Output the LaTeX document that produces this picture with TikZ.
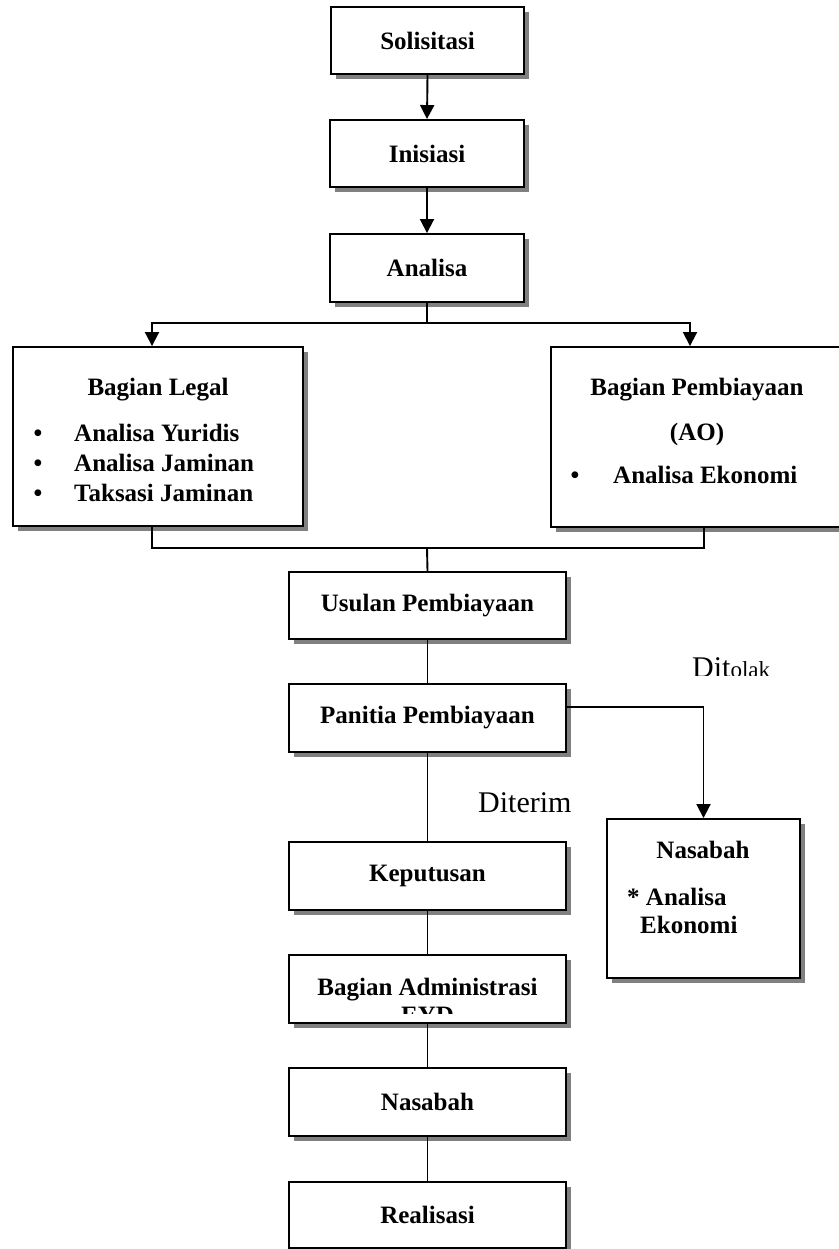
\documentclass[tikz,border=0pt]{standalone}
\usepackage{fontspec}
\setmainfont{Liberation Serif}
\usetikzlibrary{arrows.meta,shadows}
\definecolor{shadowgray}{HTML}{808080}
\begin{document}
\begin{tikzpicture}[x=1pt,y=1pt,
  box/.style={draw=black, line width=1.9pt, fill=white,
    general shadow={fill=shadowgray, shadow xshift=5pt, shadow yshift=-5pt},
    inner sep=0pt, font=\bfseries\fontsize{25}{30}\selectfont, align=center},
  link/.style={line width=1.9pt},
  arr/.style={link, -{Triangle[width=14pt,length=14pt]}},
  lbl/.style={font=\bfseries\fontsize{25}{30}\selectfont, inner sep=0pt},
  plain/.style={font=\fontsize{30}{36}\selectfont, inner sep=0pt}]
\useasboundingbox (0,0) rectangle (838,-1249);

% main column
\node[box, minimum width=193pt, minimum height=67pt] (sol) at (427.5,-40.5) {Solisitasi};
\node[box, minimum width=194pt, minimum height=67pt] (ini) at (427,-153.5) {Inisiasi};
\node[box, minimum width=194pt, minimum height=68pt] (ana) at (427,-268) {Analisa};

% two analysis departments
\node[box, minimum width=290pt, minimum height=179pt] (leg) at (158,-436.5) {};
\node[box, minimum width=292pt, minimum height=180pt] (ao) at (697,-437) {};

\node[lbl, anchor=base] (legt) at (158,-395) {Bagian Legal};
\node[lbl, anchor=base] (legb1) at (38,-441.5) {\textbullet};
\node[lbl, anchor=base] (legb2) at (38,-471.5) {\textbullet};
\node[lbl, anchor=base] (legb3) at (38,-501.5) {\textbullet};
\node[lbl, anchor=base west] (legi1) at (74,-441.5) {Analisa Yuridis};
\node[lbl, anchor=base west] (legi2) at (74,-471.5) {Analisa Jaminan};
\node[lbl, anchor=base west] (legi3) at (74,-501.5) {Taksasi Jaminan};

\node[lbl, anchor=base] (aot) at (697,-395) {Bagian Pembiayaan};
\node[lbl, anchor=base] (aoo) at (697,-440) {(AO)};
\node[lbl, anchor=base] (aob) at (575,-483.5) {\textbullet};
\node[lbl, anchor=base west] (aoi) at (613,-483.5) {Analisa Ekonomi};

% lower column
\node[box, minimum width=277pt, minimum height=67pt] (usu) at (427.5,-605.5) {Usulan Pembiayaan};
\node[box, minimum width=277pt, minimum height=68pt] (pan) at (427.5,-718) {Panitia Pembiayaan};
\node[box, minimum width=277pt, minimum height=68pt] (kep) at (427.5,-876) {Keputusan};
\node[box, minimum width=277pt, minimum height=68pt] (adm) at (427.5,-989) {};
\node[box, minimum width=277pt, minimum height=68pt] (nas) at (427.5,-1102) {Nasabah};
\node[box, minimum width=277pt, minimum height=66pt] (rea) at (427.5,-1215) {Realisasi};

% text of the administration box, cut off by its text area
\begin{scope}
  \clip (289,-955) rectangle (566,-1013);
  \node[lbl, anchor=base] (admt) at (427.5,-995) {Bagian Administrasi};
  \node[lbl, anchor=base] (admt2) at (427.5,-1023.5) {EYD};
\end{scope}

% rejected branch box
\node[box, minimum width=193pt, minimum height=159pt] (nas2) at (703.5,-898.5) {};
\node[lbl, anchor=base] (nas2t) at (703,-858) {Nasabah};
\node[lbl, anchor=base west] (nas2a) at (627,-905) {* Analisa};
\node[lbl, anchor=base west] (nas2b) at (640,-933) {Ekonomi};

% connectors
\coordinate (split) at (427,-323);
\coordinate (merge) at (427,-548);
\draw[arr] (sol.south) -- (ini.north);
\draw[arr] (ini.south) -- (ana.north);
\draw[link] (ana.south) -- (split);
\draw[arr] (split) -| ([xshift=-6pt]leg.north);
\draw[arr] (split) -| ([xshift=-7pt]ao.north);
\draw[link] ([xshift=-6pt]leg.south) |- (merge) -| ([xshift=7pt]ao.south);
\draw[link] (merge) -- (usu.north);
\draw[link] (usu.south) -- (pan.north);
\draw[link] (pan.south) -- (kep.north);
\draw[link] (kep.south) -- (adm.north);
\draw[link] (adm.south) -- (nas.north);
\draw[link] (nas.south) -- (rea.north);
\draw[arr] ([yshift=11pt]pan.east) -| (nas2.north);

% decision labels
\node[plain, anchor=base west] (acc) at (478,-812) {Diterim};
\begin{scope}
  \clip (680,-640) rectangle (800,-675);
  \node[anchor=base west, inner sep=0pt] (rej) at (692,-677)
    {\fontsize{30}{36}\selectfont Dit\fontsize{23}{28}\selectfont olak};
\end{scope}
\end{tikzpicture}
\end{document}
